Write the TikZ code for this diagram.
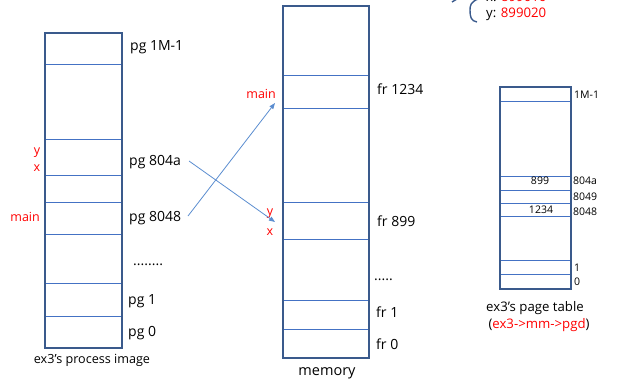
\documentclass[tikz,border=0pt]{standalone}
\usepackage{fontspec}
\setmainfont{Open Sans}
\usetikzlibrary{arrows.meta}
\definecolor{frameblue}{RGB}{58,90,140}
\definecolor{slotblue}{RGB}{68,114,196}
\definecolor{mapblue}{RGB}{91,141,208}
\definecolor{varred}{RGB}{255,0,0}

\begin{document}
\begin{tikzpicture}[
  x=1pt, y=-1pt,
  >={Triangle[length=6pt,width=4.5pt]},
  frame/.style={draw=frameblue, line width=2.2pt},
  slot/.style={draw=slotblue, line width=0.9pt},
  lbl/.style={font=\fontsize{14}{16}\selectfont, inner sep=0pt, anchor=west},
  idx/.style={font=\fontsize{10.5}{12}\selectfont, inner sep=0pt},
  capt/.style={font=\fontsize{13.2}{15}\selectfont, inner sep=0pt},
  var/.style={font=\fontsize{12.5}{14}\selectfont, inner sep=0pt, text=varred},
  map/.style={draw=mapblue, line width=0.8pt, ->},
]
  \useasboundingbox (0,0) rectangle (638,386);

  % ---------------- process image of ex3
  \foreach \y in {64,139,175,202,234,283,316} \draw[slot] (45,\y) -- (122,\y);
  \draw[frame] (45,33) rectangle (122,348);
  \node[lbl] (pgtop) at (130,47) {pg 1M-1};
  \node[lbl] (pgdata) at (129,162) {pg 804a};
  \node[lbl] (pgcode) at (129,218) {pg 8048};
  \node[lbl, anchor=base west] (pgdots) at (133,265) {........};
  \node[lbl] (pgone) at (128,301) {pg 1};
  \node[lbl] (pgzero) at (128,333) {pg 0};
  \node[capt, font=\fontsize{12.6}{14}\selectfont] (imgcap) at (92,360) {ex3's process image};
  \node[var] (vy) at (37,153) {y};
  \node[var] (vx) at (37,168) {x};
  \node[var, anchor=east] (vmain) at (40,217) {main};

  % ---------------- physical memory
  \foreach \y in {75,108,202,239,300,329} \draw[slot] (283,\y) -- (369,\y);
  \draw[frame] (283,6) rectangle (369,358);
  \node[lbl] (frcode) at (377,89) {fr 1234};
  \node[lbl] (frdata) at (377,221) {fr 899};
  \node[lbl, anchor=base west] (frdots) at (374,280) {.....};
  \node[lbl] (frone) at (376,312) {fr 1};
  \node[lbl] (frzero) at (376,344) {fr 0};
  \node[capt, font=\fontsize{14.5}{16}\selectfont] (memcap) at (327,373) {memory};
  \node[var, anchor=east] (mmain) at (276,94) {main};
  \node[var] (my) at (270,214) {y};
  \node[var] (mx) at (270,232) {x};

  % ---------------- page -> frame mapping
  \coordinate (codefrom) at (188,216);
  \coordinate (codeto) at (275,103);
  \coordinate (datafrom) at (189,161);
  \coordinate (datato) at (275,222);
  \draw[map] (codefrom) -- (codeto);
  \draw[map] (datafrom) -- (datato);

  % ---------------- page table
  \foreach \y in {101,176,190,203,216,260,274} \draw[slot] (500,\y) -- (571,\y);
  \draw[frame] (500,87) rectangle (571,289);
  \node[idx, anchor=west] (ptop) at (574,95) {1M-1};
  \node[idx, anchor=west] (pdata) at (573,181) {804a};
  \node[idx, anchor=west] (pnext) at (573,197) {8049};
  \node[idx, anchor=west] (pcode) at (573,212) {8048};
  \node[idx, anchor=west] (pone) at (574,268) {1};
  \node[idx, anchor=west] (pzero) at (574,282) {0};
  \node[idx] (ent899) at (540,181) {899};
  \node[idx] (ent1234) at (541,210) {1234};
  \node[capt] (ptcap) at (535,308) {ex3's page table};
  \node[capt] (ptsub) at (539,325) {(\textcolor{varred}{ex3->mm->pgd})};

  % ---------------- physical addresses (cut at the top)
  \draw[frameblue, line width=1.4pt]
    (478,-1) .. controls (471,2) and (470,5) .. (470,10)
    .. controls (470,17) and (471,21) .. (477,22);
  \draw[frameblue, line width=1.4pt] (452,2) -- (457,-1);
  \node[capt, anchor=west] (addrx) at (486,-3) {x: \textcolor{varred}{89901c}};
  \node[capt, anchor=west] (addry) at (486,14) {y: \textcolor{varred}{899020}};
\end{tikzpicture}
\end{document}
